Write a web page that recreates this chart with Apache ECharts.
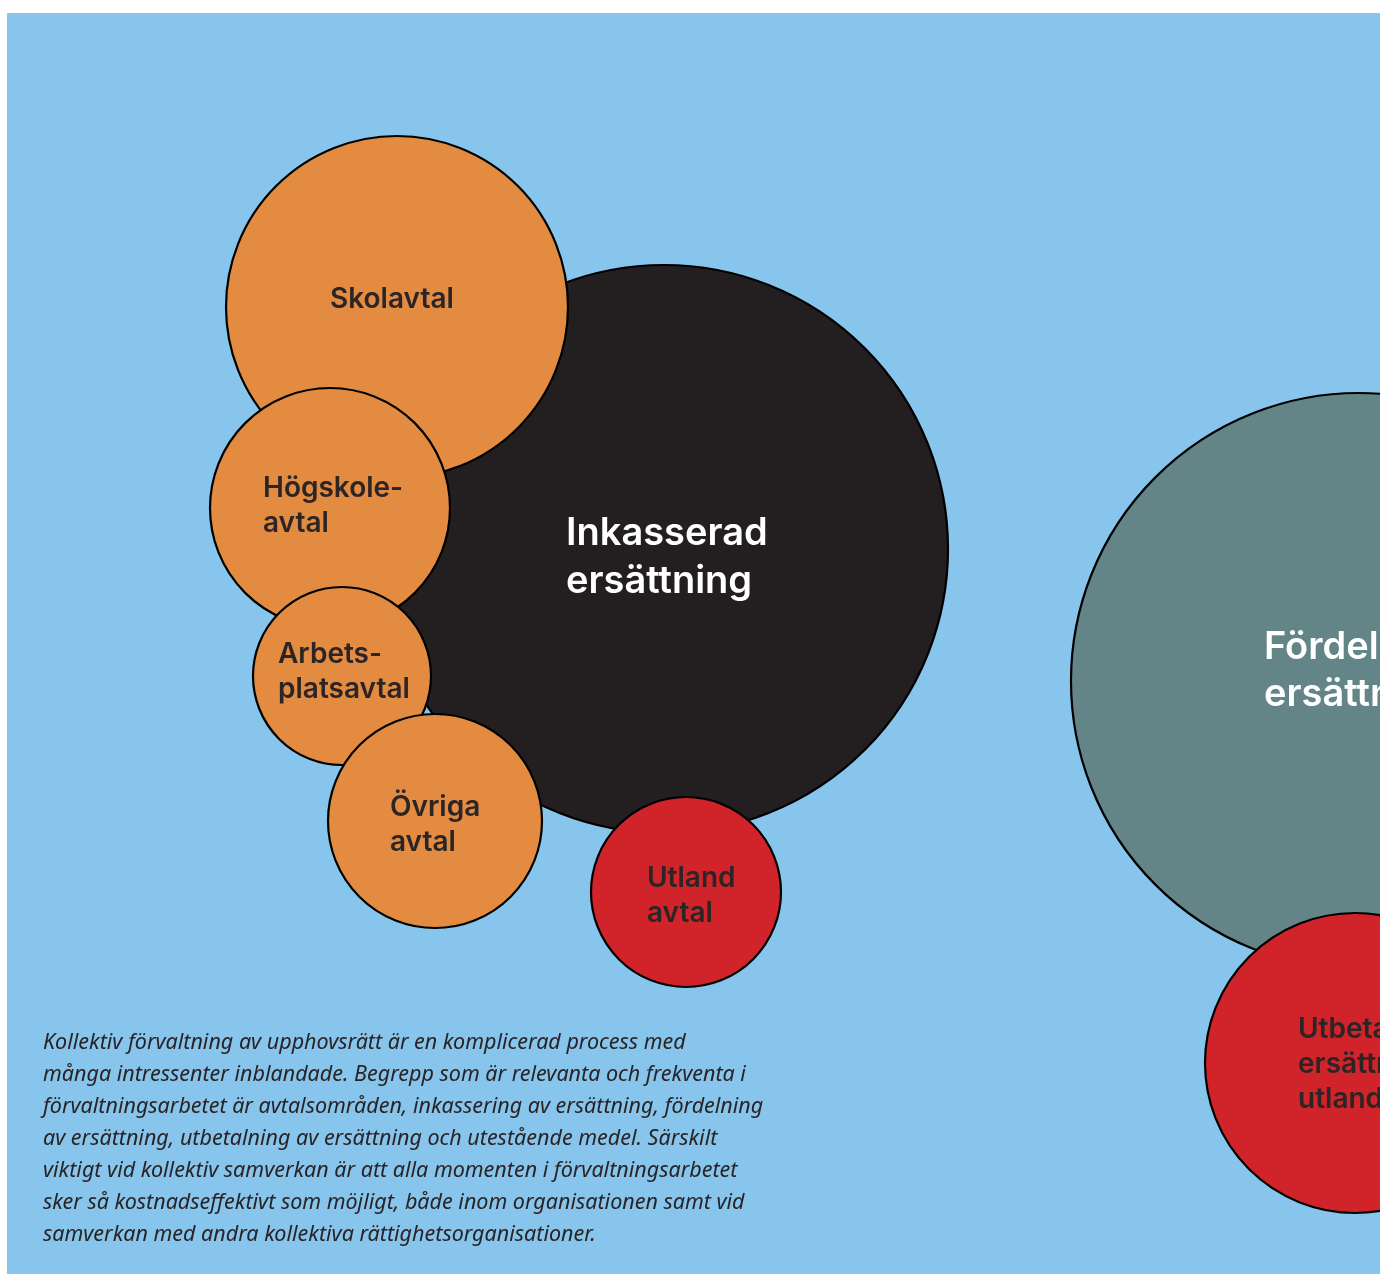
<!DOCTYPE html>
<html>
<head>
<meta charset="utf-8">
<script src="https://cdn.jsdelivr.net/npm/echarts@6/dist/echarts.min.js"></script>
<style>
  html, body { margin: 0; padding: 0; background: #ffffff; }
  #chart { width: 1380px; height: 1274px; }
</style>
</head>
<body>
<div id="chart"></div>
<script>
// ---- data ----
const names = ['Inkasserad\nersättning', 'Fördelad\nersättning', 'Skolavtal', 'Högskole-\navtal',
               'Arbets-\nplatsavtal', 'Övriga\navtal', 'Utland\navtal', 'Utbetald\nersättning\nutland'];
const groups = ['inkasserad', 'fordelad', 'avtal', 'avtal', 'avtal', 'avtal', 'utland', 'utland'];
const centerX = [664, 1359, 397, 330, 342, 435, 686, 1355];
const centerY = [549, 681, 307, 508, 676, 821, 892, 1063];
const radius  = [284, 288, 171, 120, 89, 107, 95, 150];
const bodyText = [
  'Kollektiv förvaltning av upphovsrätt är en komplicerad process med',
  'många intressenter inblandade. Begrepp som är relevanta och frekventa i',
  'förvaltningsarbetet är avtalsområden, inkassering av ersättning, fördelning',
  'av ersättning, utbetalning av ersättning och utestående medel. Särskilt',
  'viktigt vid kollektiv samverkan är att alla momenten i förvaltningsarbetet',
  'sker så kostnadseffektivt som möjligt, både inom organisationen samt vid',
  'samverkan med andra kollektiva rättighetsorganisationer.'
];

// ---- styles ----
const fillColors = { inkasserad: '#231f20', fordelad: '#648587', avtal: '#e28b41', utland: '#d1232a' };
const labelColors = { inkasserad: '#ffffff', fordelad: '#ffffff', avtal: '#2b2526', utland: '#2b2526' };
const labelSizes = { inkasserad: 38, fordelad: 38, avtal: 28, utland: 28 };
const labelLineHeights = { inkasserad: 48, fordelad: 47, avtal: 35, utland: 35 };
const labelOffsets = [[-98, 9], [-95, -10], [-67, -7], [-67, -2], [-64, -4], [-45, 4], [-39, 4], [-57, 2]];

const seriesData = names.map((n, i) => {
  const g = groups[i];
  return {
    name: n,
    value: [centerX[i], centerY[i], radius[i]],
    itemStyle: { color: fillColors[g], borderColor: '#000000', borderWidth: 2.2, opacity: 1 },
    label: {
      show: true,
      formatter: n,
      position: 'inside',
      align: 'left',
      verticalAlign: 'middle',
      offset: labelOffsets[i],
      color: labelColors[g],
      fontSize: labelSizes[g],
      lineHeight: labelLineHeights[g],
      fontFamily: 'Inter',
      fontWeight: 600
    }
  };
});

const chart = echarts.init(document.getElementById('chart'), null, { renderer: 'canvas' });
chart.setOption({
  animation: false,
  backgroundColor: '#ffffff',
  grid: { left: 7, top: 13, right: 0, bottom: 0, show: true, backgroundColor: '#87c5ec', borderWidth: 0 },
  xAxis: { type: 'value', min: 7, max: 1380, show: false },
  yAxis: { type: 'value', min: 13, max: 1274, inverse: true, show: false },
  title: {
    text: bodyText.join('\n'),
    left: 43, top: 1027, padding: 0,
    textStyle: { fontFamily: 'Noto Sans', fontStyle: 'italic', fontWeight: 'normal', fontSize: 21.5, lineHeight: 32, color: '#2a2326' }
  },
  series: [{
    type: 'scatter',
    clip: false,
    data: seriesData,
    symbol: 'circle',
    symbolSize: (v) => v[2] * 2,
    emphasis: { disabled: true }
  }]
});
</script>
</body>
</html>
